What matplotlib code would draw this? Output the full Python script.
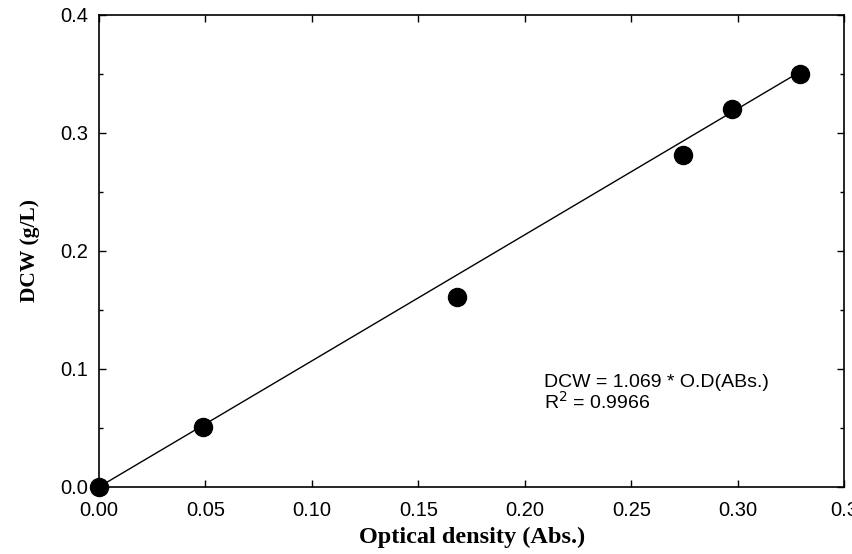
import matplotlib.pyplot as plt
import numpy as np
from matplotlib.ticker import MultipleLocator

# Calibration data: optical density vs dry cell weight
od = [0.0, 0.049, 0.168, 0.274, 0.297, 0.329]
dcw = [0.0, 0.051, 0.161, 0.281, 0.320, 0.350]
slope = 1.069
r2 = 0.9966

fig = plt.figure(figsize=(8.53, 5.54), dpi=100)
ax = fig.add_axes([0.116, 0.121, 0.874, 0.852])

fit_x = np.array([0.0, max(od)])
ax.plot(fit_x, slope * fit_x, color='black', linewidth=1.0, zorder=2)
ax.plot(od, dcw, 'o', color='black', markersize=13, zorder=3, clip_on=False)

ax.set_xlim(0, 0.35)
ax.set_ylim(0, 0.4)
ax.set_xticks([0.0, 0.05, 0.10, 0.15, 0.20, 0.25, 0.30, 0.35])
ax.set_xticklabels(['0.00', '0.05', '0.10', '0.15', '0.20', '0.25', '0.30', '0.3'])
ax.set_yticks([0.0, 0.1, 0.2, 0.3, 0.4])
ax.set_yticklabels(['0.0', '0.1', '0.2', '0.3', '0.4'])
ax.yaxis.set_minor_locator(MultipleLocator(0.05))

ax.tick_params(which='both', direction='in', top=True, right=True, width=1.0,
               labelsize=14.5)
ax.tick_params(axis='x', pad=10)
ax.tick_params(axis='y', pad=8)
ax.tick_params(which='major', length=5)
ax.tick_params(which='minor', length=3)
for lbl in ax.get_xticklabels() + ax.get_yticklabels():
    lbl.set_family('Liberation Sans')
for sp in ax.spines.values():
    sp.set_linewidth(1.2)

ax.set_xlabel('Optical density (Abs.)', family='Liberation Serif', fontweight='bold',
              fontsize=17.5, labelpad=5)
ax.set_ylabel('DCW (g/L)', family='Liberation Serif', fontweight='bold',
              fontsize=15.5, labelpad=14)

ax.text(0.209, 0.0847, 'DCW = %.3f * O.D(ABs.)' % slope, family='Liberation Sans',
        fontsize=14, va='baseline')
ax.text(0.209, 0.0665, 'R$^2$ = %.4f' % r2, family='Liberation Sans',
        fontsize=14, va='baseline')

fig.savefig('out.png', dpi=100)
